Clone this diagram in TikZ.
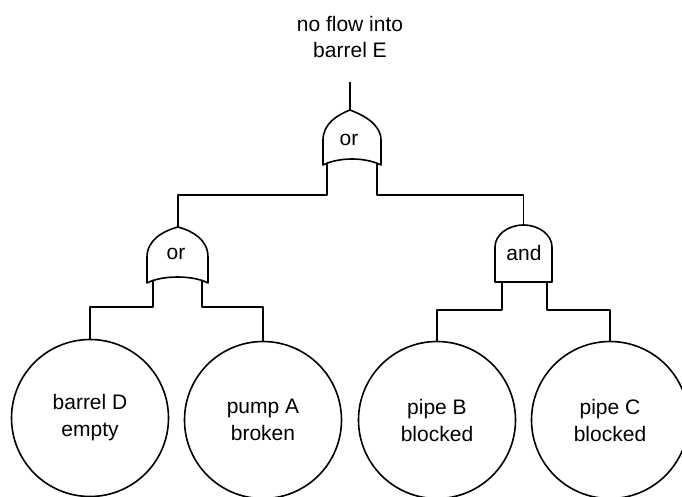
\documentclass[tikz,border=0pt]{standalone}
\usepackage{fontspec}
\setmainfont{Liberation Sans}
\begin{document}
\begin{tikzpicture}[x=1pt,y=-1pt, line width=1.6pt, line join=round,
  gate/.style={draw, fill=white},
  event/.style={draw, circle, fill=white, minimum size=157pt, inner sep=0pt, align=center, font=\fontsize{21}{27}\selectfont},
  lbl/.style={font=\fontsize{21}{26}\selectfont, align=center, inner sep=0pt}]
\useasboundingbox (0,0) rectangle (682,496);
\clip (0,0) rectangle (682,496);
\fill[white] (0,0) rectangle (682,496);

% coordinates
\coordinate (topw) at (350,82);
\coordinate (g1out) at (350,110);
\coordinate (g1L) at (327,164);
\coordinate (g1R) at (377,164);
\coordinate (g2out) at (178,227);
\coordinate (g2L) at (153,281);
\coordinate (g2R) at (202,281);
\coordinate (g3out) at (523.5,225);
\coordinate (g3L) at (502,282);
\coordinate (g3R) at (547,282);

% events
\node[event] (e1) at (90,418) {barrel D\\empty};
\node[event] (e2) at (263,420) {pump A\\broken};
\node[event] (e3) at (437,420) {pipe B\\blocked};
\node[event] (e4) at (610,420) {pipe C\\blocked};

% wires
\draw (topw) -- (g1out);
\draw (g1L) -- ++(0,31) -| (g2out);
\draw (g1R) -- ++(0,31) -| (g3out);
\draw (g2L) -- ++(0,26) -| (e1.north);
\draw (g2R) -- ++(0,26) -| (e2.north);
\draw (g3L) -- ++(0,28) -| (e3.north);
\draw (g3R) -- ++(0,28) -| (e4.north);

% gates
\draw[gate] (323,165) -- (323,140) .. controls (323,124) and (337,115) .. (g1out)
  .. controls (363,115) and (381,124) .. (381,140) -- (381,165)
  .. controls (365,157) and (339,157) .. (323,165) -- cycle;
\draw[gate] (147,283) -- (147,257) .. controls (147,240) and (163,231) .. (g2out)
  .. controls (193,231) and (208,240) .. (208,257) -- (208,283)
  .. controls (193,275) and (162,275) .. (147,283) -- cycle;
\draw[gate] (495,282) -- (495,247) .. controls (495,235) and (507.8,225) .. (g3out)
  .. controls (539.2,225) and (552,235) .. (552,247) -- (552,282) -- cycle;

% labels
\node[lbl] (top) at (350,37) {no flow into\\barrel E};
\node[lbl] (t1) at (349,140) {or};
\node[lbl] (t2) at (176,254) {or};
\node[lbl] (t3) at (524,253) {and};
\end{tikzpicture}
\end{document}
